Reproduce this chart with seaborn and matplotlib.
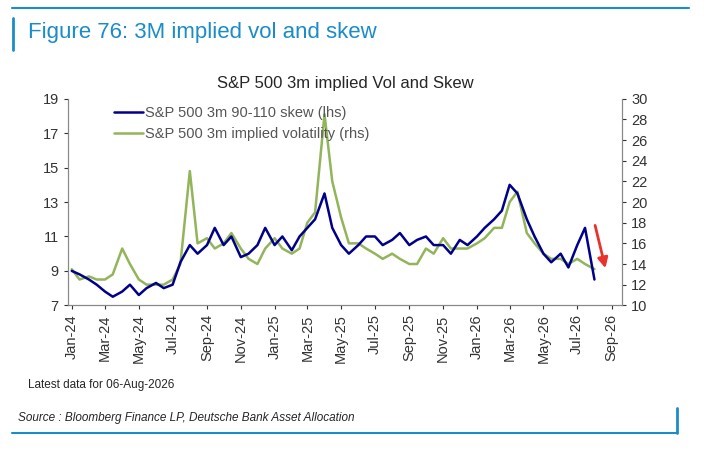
import matplotlib
matplotlib.use("Agg")
import matplotlib.pyplot as plt
import matplotlib.dates as mdates
import seaborn as sns
import pandas as pd

sns.set_style("white")
plt.rcParams['font.family'] = ['Liberation Sans', 'DejaVu Sans']

months = pd.date_range("2024-01-01", "2026-08-01", freq="MS")
dates = []
for m in months:
    dates += [m, m + pd.Timedelta(days=14)]
dates = dates[:-1]

skew = [9.0, 8.8, 8.5, 8.2, 7.8, 7.5, 7.8, 8.2, 7.6, 8.0, 8.3, 8.0, 8.2, 9.5,
        10.5, 10.0, 10.5, 11.5, 10.5, 11.0, 9.8, 10.0, 10.5, 11.5,
        10.5, 11.0, 10.2, 11.0, 11.5, 12.0, 13.5, 11.5, 10.5, 10.0, 10.5, 11.0,
        11.0, 10.5, 10.8, 11.2, 10.5, 10.8, 11.0, 10.5, 10.5, 10.0, 10.8, 10.5,
        11.0, 11.5, 12.0, 12.5, 14.0, 13.5, 12.0, 11.0, 10.0, 9.5, 10.0, 9.2,
        10.5, 11.5, 8.5]
vol = [13.5, 12.5, 12.8, 12.5, 12.5, 13.0, 15.5, 14.0, 12.5, 12.0, 12.0, 12.0,
       12.5, 14.0, 23.0, 16.0, 16.5, 15.5, 16.0, 17.0, 15.5, 14.5, 14.0, 15.5,
       16.5, 15.5, 15.0, 15.5, 18.0, 19.0, 28.5, 22.0, 18.5, 16.0, 16.0, 15.5,
       15.0, 14.5, 15.0, 14.5, 14.0, 14.0, 15.5, 15.0, 16.5, 15.5, 15.5, 15.5,
       16.0, 16.5, 17.5, 17.5, 20.0, 21.0, 17.0, 16.0, 15.0, 14.5, 14.5, 14.0,
       14.5, 14.0, 13.5]
df = pd.DataFrame({"date": dates, "skew": skew, "vol": vol})

fig = plt.figure(figsize=(7.07, 4.51), dpi=100)
ax = fig.add_axes([0.096, 0.323, 0.784, 0.458])
ax2 = ax.twinx()
sns.lineplot(data=df, x="date", y="skew", ax=ax, color="#00008B", lw=1.8, label="S&P 500 3m 90-110 skew (lhs)", legend=False)
sns.lineplot(data=df, x="date", y="vol", ax=ax2, color="#92B55A", lw=1.8, label="S&P 500 3m implied volatility (rhs)", legend=False)
ax.set_zorder(ax2.get_zorder() + 1); ax.patch.set_visible(False)

ax.set_ylim(7, 19); ax.set_yticks(range(7, 20, 2))
ax2.set_ylim(10, 30); ax2.set_yticks(range(10, 31, 2))
ax.set_xlim(pd.Timestamp("2023-12-25"), pd.Timestamp("2026-09-20"))
ax.xaxis.set_major_locator(mdates.MonthLocator(bymonth=[1, 3, 5, 7, 9, 11]))
ax.xaxis.set_major_formatter(mdates.DateFormatter("%b-%y"))
for a in (ax, ax2):
    a.set_xlabel(""); a.set_ylabel("")
    a.tick_params(labelsize=10.5, colors="#333333", length=3)
    for s in a.spines.values(): s.set_color("#888888")
ax.tick_params(axis="x", rotation=90, direction="out", bottom=True)
ax.spines["top"].set_visible(False); ax2.spines["top"].set_visible(False)

ax.annotate("", xy=(pd.Timestamp("2026-08-22"), 9.0), xytext=(pd.Timestamp("2026-08-01"), 11.8),
            arrowprops=dict(arrowstyle="-|>", color="#E8322B", lw=2, mutation_scale=15))

h1, l1 = ax.get_legend_handles_labels(); h2, l2 = ax2.get_legend_handles_labels()
ax.legend(h1 + h2, l1 + l2, loc="upper left", bbox_to_anchor=(0.06, 1.03), frameon=False,
          fontsize=10.5, handlelength=2.0, handletextpad=0.1, labelcolor="#555555")
ax.set_title("S&P 500 3m implied Vol and Skew", fontsize=12, pad=8)

fig.text(0.04, 0.915, "Figure 76: 3M implied vol and skew", fontsize=16, color="#1A8CC8")
fig.add_artist(plt.Line2D([0.017, 0.975], [0.983, 0.983], color="#1A8CC8", lw=1.5))
fig.add_artist(plt.Line2D([0.018, 0.018], [0.89, 0.96], color="#1A8CC8", lw=2))
fig.text(0.04, 0.14, "Latest data for 06-Aug-2026", fontsize=8.5)
fig.text(0.025, 0.066, "Source : Bloomberg Finance LP, Deutsche Bank Asset Allocation", fontsize=8.5, style="italic")
fig.add_artist(plt.Line2D([0.017, 0.958], [0.04, 0.04], color="#1A8CC8", lw=1.5))
fig.add_artist(plt.Line2D([0.957, 0.957], [0.04, 0.095], color="#1A8CC8", lw=2))
fig.savefig("out.png", dpi=100)
